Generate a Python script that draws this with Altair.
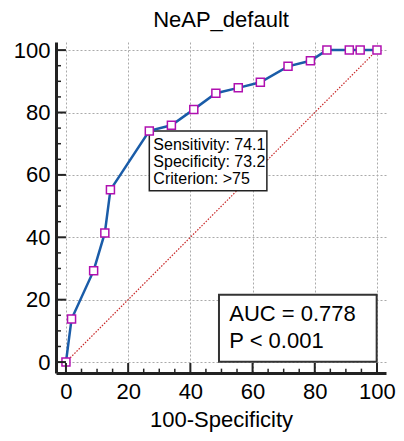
import altair as alt
import pandas as pd

# ROC curve points (100-Specificity, Sensitivity)
fpr = [0, 1.8, 8.9, 12.5, 14.3, 26.8, 33.9, 41.1, 48.2, 55.4, 62.5, 71.4, 78.6, 83.9, 91.1, 94.6, 100]
tpr = [0, 13.8, 29.3, 41.4, 55.2, 74.1, 75.9, 81.0, 86.2, 87.9, 89.7, 94.8, 96.6, 100, 100, 100, 100]

major_ticks = [0, 20, 40, 60, 80, 100]
minor_ticks = [5, 10, 15, 25, 30, 35, 45, 50, 55, 65, 70, 75, 85, 90, 95]

diag_x = [0, 100]
diag_y = [0, 100]

crit_lines = ["Sensitivity: 74.1", "Specificity: 73.2", "Criterion: >75"]
crit_box = {"x": 26.8, "x2": 64.6, "y": 74.1, "y2": 54.9}
crit_text_x = 28.1
crit_text_y = [69.6, 64.0, 58.6]

auc_lines = ["AUC = 0.778", "P < 0.001"]
auc_box = {"x": 49.2, "x2": 99.9, "y": 21.6, "y2": 0.1}
auc_text_x = 52.5
auc_text_y = [15.4, 6.6]

XDOM = [-3.2, 102.9]
YDOM = [-3.5, 102.6]
FONT = "Liberation Sans"

roc = pd.DataFrame({"x": fpr, "y": tpr, "i": range(len(fpr))})
diag = pd.DataFrame({"x": diag_x, "y": diag_y})
majors = pd.DataFrame({"v": major_ticks})
minors = pd.DataFrame({"v": minor_ticks})

xs = alt.Scale(domain=XDOM, nice=False, zero=False)
ys = alt.Scale(domain=YDOM, nice=False, zero=False)

xaxis = alt.Axis(values=major_ticks, title="100-Specificity", labelPadding=8, titlePadding=7)
yaxis = alt.Axis(values=major_ticks, title=None, labelPadding=6)

base = alt.Chart(roc)

diag_layer = alt.Chart(diag).mark_line(color="#c82828", strokeWidth=1.2, strokeDash=[1.5, 1.5]).encode(
    x=alt.X("x:Q", scale=xs, axis=xaxis),
    y=alt.Y("y:Q", scale=ys, axis=yaxis),
)

crit_rect = alt.Chart(pd.DataFrame([crit_box])).mark_rect(
    fill="white", stroke="#222", strokeWidth=1.5
).encode(x="x:Q", x2="x2:Q", y="y:Q", y2="y2:Q")

auc_rect = alt.Chart(pd.DataFrame([auc_box])).mark_rect(
    fill="white", stroke="#333", strokeWidth=2
).encode(x="x:Q", x2="x2:Q", y="y:Q", y2="y2:Q")

line = base.mark_line(color="#1a5ca8", strokeWidth=2.5).encode(
    x="x:Q", y="y:Q", order="i:Q"
)
pts = base.mark_point(shape="square", size=64, filled=False, fill="white", fillOpacity=1,
                      stroke="#b010b0", strokeWidth=1.5, opacity=1).encode(x="x:Q", y="y:Q")

crit_df = pd.DataFrame({"t": crit_lines, "x": [crit_text_x] * 3, "y": crit_text_y})
crit_txt = alt.Chart(crit_df).mark_text(align="left", baseline="middle", fontSize=16,
                                        font=FONT, color="black").encode(x="x:Q", y="y:Q", text="t:N")

auc_df = pd.DataFrame({"t": auc_lines, "x": [auc_text_x] * 2, "y": auc_text_y})
auc_txt = alt.Chart(auc_df).mark_text(align="left", baseline="middle", fontSize=22,
                                      font=FONT, color="black").encode(x="x:Q", y="y:Q", text="t:N")

# inward ticks
xmaj = alt.Chart(majors).mark_rule(color="#222", strokeWidth=2).encode(
    x="v:Q", y=alt.datum(YDOM[0]), y2=alt.datum(YDOM[0] + 3.2))
xmin = alt.Chart(minors).mark_rule(color="#222", strokeWidth=1.5).encode(
    x="v:Q", y=alt.datum(YDOM[0]), y2=alt.datum(YDOM[0] + 1.4))
ymaj = alt.Chart(majors).mark_rule(color="#222", strokeWidth=2).encode(
    y="v:Q", x=alt.datum(XDOM[0]), x2=alt.datum(XDOM[0] + 3.2))
ymin = alt.Chart(minors).mark_rule(color="#222", strokeWidth=1.5).encode(
    y="v:Q", x=alt.datum(XDOM[0]), x2=alt.datum(XDOM[0] + 1.6))

chart = alt.layer(
    diag_layer, crit_rect, auc_rect, line, pts, crit_txt, auc_txt, xmaj, xmin, ymaj, ymin
).properties(
    width=330, height=331,
    title=alt.TitleParams("NeAP_default", fontSize=22, font=FONT, fontWeight="normal",
                          color="black", offset=7),
    autosize=alt.AutoSizeParams(type="none"),
    padding={"left": 48, "top": 34, "right": 10, "bottom": 60},
).configure_view(stroke=None).configure_axis(
    domainColor="#222", domainWidth=3, ticks=False,
    labelFontSize=22, labelFont=FONT, labelColor="black",
    titleFontSize=22, titleFont=FONT, titleFontWeight="normal", titleColor="black",
    gridColor="#aaa", gridDash=[2, 2], gridWidth=1,
)

chart.save("out.html", embed_options={"renderer": "svg", "actions": False})
